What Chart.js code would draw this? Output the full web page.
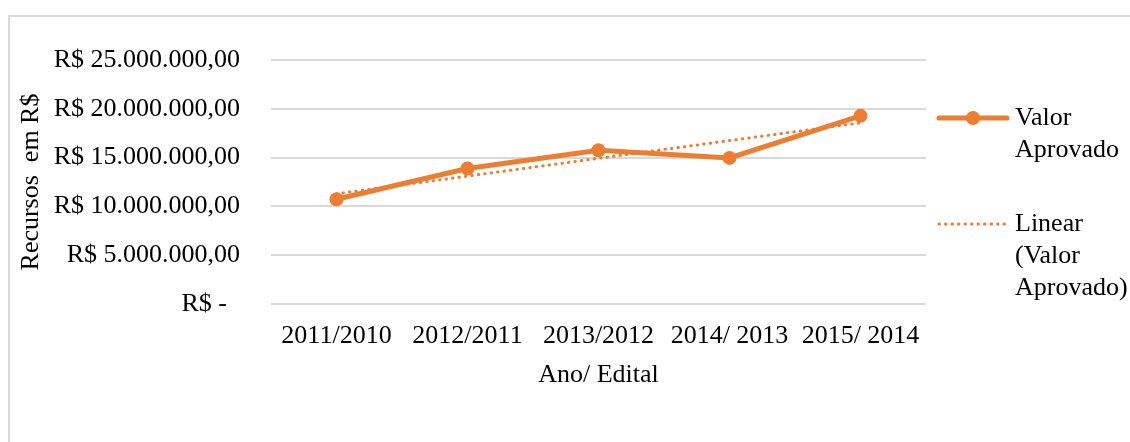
<!DOCTYPE html>
<html>
<head>
<meta charset="utf-8">
<script src="https://cdn.jsdelivr.net/npm/chart.js@4"></script>
<style>
    body { margin: 0; background: #fff; }
    #wrap { position: relative; width: 1130px; height: 442px; }
    #frame { position: absolute; left: 8px; top: 15px; right: 0; bottom: 0;
             border-top: 2px solid #d9d9d9; border-left: 2px solid #d9d9d9; pointer-events: none; }
</style>
</head>
<body>
<div id="wrap">
    <canvas id="valoresChart" width="1130" height="442"></canvas>
    <div id="frame"></div>
</div>
<script>
// Data
const anos = ['2011/2010', '2012/2011', '2013/2012', '2014/ 2013', '2015/ 2014'];
const valorAprovado = [10730000, 13880000, 15760000, 14970000, 19280000];
const yTicks = [0, 5000000, 10000000, 15000000, 20000000, 25000000];
const legendLines = [['Valor', 'Aprovado'], ['Linear', '(Valor', 'Aprovado)']];

const laranja = '#ed7d31';
const fonte = 'Liberation Serif, Times New Roman, serif';

// Linear trendline (least squares over the series, like Excel does)
function tendencia(vals) {
    const n = vals.length;
    let sx = 0, sy = 0, sxy = 0, sxx = 0;
    vals.forEach((v, i) => { const x = i + 1; sx += x; sy += v; sxy += x * v; sxx += x * x; });
    const b = (n * sxy - sx * sy) / (n * sxx - sx * sx);
    const a = (sy - b * sx) / n;
    return vals.map((v, i) => a + b * (i + 1));
}

function moeda(v) {
    if (v === 0) return 'R$ -  ';
    const inteiro = Math.round(v).toString().replace(/\B(?=(\d{3})+(?!\d))/g, '.');
    return 'R$ ' + inteiro + ',00';
}

// Legend on the right with wrapped labels
const legendaLateral = {
    id: 'legendaLateral',
    afterDraw(chart) {
        const ctx = chart.ctx;
        const rows = [118, 224];
        ctx.save();
        chart.data.datasets.forEach((ds, i) => {
            const y = rows[i];
            ctx.strokeStyle = ds.borderColor;
            ctx.lineWidth = ds.borderWidth;
            ctx.lineCap = 'round';
            ctx.setLineDash(ds.borderDash || []);
            ctx.beginPath();
            ctx.moveTo(939, y);
            ctx.lineTo(1007, y);
            ctx.stroke();
            ctx.setLineDash([]);
            if (ds.pointRadius > 0) {
                ctx.fillStyle = ds.borderColor;
                ctx.beginPath();
                ctx.arc(973, y, ds.pointRadius, 0, Math.PI * 2);
                ctx.fill();
            }
            ctx.fillStyle = '#000';
            ctx.font = '26px ' + fonte;
            ctx.textBaseline = 'middle';
            ctx.textAlign = 'left';
            legendLines[i].forEach((t, k) => ctx.fillText(t, 1015, y + k * 32));
        });
        ctx.restore();
    }
};

document.addEventListener("DOMContentLoaded", function() {
    const ctx = document.getElementById('valoresChart').getContext('2d');
    new Chart(ctx, {
        type: 'line',
        data: {
            labels: anos,
            datasets: [{
                label: 'Valor Aprovado',
                data: valorAprovado,
                borderColor: laranja,
                backgroundColor: laranja,
                borderWidth: 5,
                pointRadius: 7,
                pointHoverRadius: 7,
                pointBackgroundColor: laranja,
                pointBorderWidth: 0,
                tension: 0,
                order: 1
            }, {
                label: 'Linear (Valor Aprovado)',
                data: tendencia(valorAprovado),
                borderColor: laranja,
                borderWidth: 3,
                borderDash: [0.5, 6],
                borderCapStyle: 'round',
                pointRadius: 0,
                tension: 0,
                order: 2
            }]
        },
        options: {
            responsive: false,
            animation: false,
            layout: { padding: { left: 0, right: 204, top: 60, bottom: 0 } },
            scales: {
                x: {
                    offset: true,
                    grid: { display: false },
                    border: { display: false },
                    ticks: { color: '#000', font: { family: fonte, size: 26 }, padding: 9, maxRotation: 0 },
                    title: { display: true, text: 'Ano/ Edital', color: '#000',
                             font: { family: fonte, size: 26 }, padding: { top: 0, bottom: 51 } },
                    afterFit: s => { s.height = 138; }
                },
                y: {
                    min: 0,
                    max: 25000000,
                    afterBuildTicks: s => { s.ticks = yTicks.map(v => ({ value: v })); },
                    grid: { color: '#d9d9d9', lineWidth: 2, drawTicks: false },
                    border: { display: false },
                    ticks: { color: '#000', font: { family: fonte, size: 26 }, padding: 31, callback: v => moeda(v) },
                    title: { display: true, text: 'Recursos  em R$', color: '#000',
                             font: { family: fonte, size: 26 }, padding: { top: 16, bottom: 0 } },
                    afterFit: s => { s.width = 271; }
                }
            },
            plugins: {
                legend: { display: false },
                tooltip: { enabled: false }
            }
        },
        plugins: [legendaLateral]
    });
});
</script>
</body>
</html>
